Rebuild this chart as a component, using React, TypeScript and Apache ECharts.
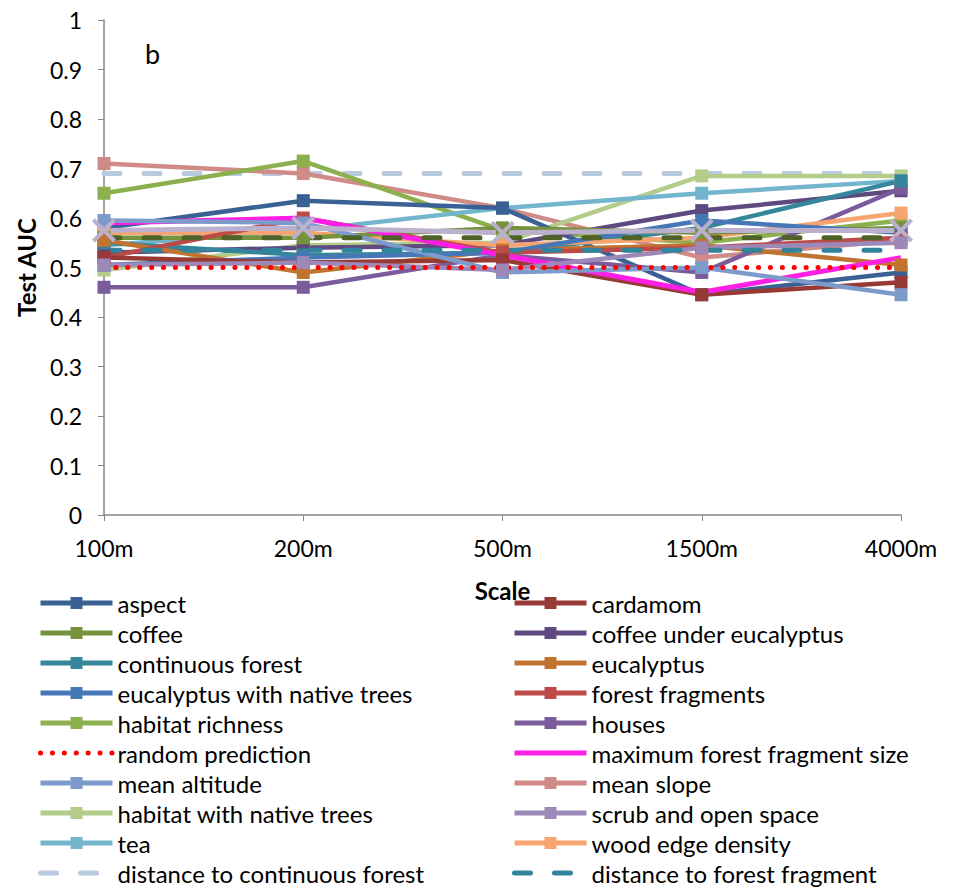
import React, { useEffect, useRef } from "react";
import * as echarts from "echarts";

const scales = ["100m", "200m", "500m", "1500m", "4000m"];
const yTicks = [0, 0.1, 0.2, 0.3, 0.4, 0.5, 0.6, 0.7, 0.8, 0.9, 1];

const aspect = [0.58, 0.635, 0.62, 0.445, 0.49];
const cardamom = [0.52, 0.51, 0.515, 0.445, 0.47];
const coffee = [0.56, 0.56, 0.58, 0.57, 0.58];
const coffeeUnderEucalyptus = [0.53, 0.54, 0.545, 0.615, 0.655];
const continuousForest = [0.55, 0.525, 0.53, 0.58, 0.675];
const eucalyptus = [0.555, 0.49, 0.535, 0.545, 0.505];
const eucalyptusNative = [0.505, 0.52, 0.53, 0.595, 0.57];
const forestFragments = [0.52, 0.6, 0.53, 0.54, 0.56];
const habitatRichness = [0.65, 0.715, 0.575, 0.55, 0.595];
const houses = [0.46, 0.46, 0.525, 0.49, 0.66];
const randomPrediction = [0.5, 0.5, 0.5, 0.5, 0.5];
const maxFragmentSize = [0.59, 0.6, 0.525, 0.45, 0.52];
const meanAltitude = [0.595, 0.59, 0.49, 0.5, 0.445];
const meanSlope = [0.71, 0.69, 0.62, 0.52, 0.555];
const habitatNative = [0.495, 0.545, 0.55, 0.685, 0.685];
const scrubOpen = [0.505, 0.51, 0.495, 0.54, 0.55];
const tea = [0.545, 0.575, 0.62, 0.65, 0.675];
const woodEdge = [0.57, 0.57, 0.545, 0.56, 0.61];
const distContinuous = [0.69, 0.69, 0.69, 0.69, 0.69];
const distFragment = [0.535, 0.535, 0.535, 0.535, 0.535];
const distOther = [0.56, 0.56, 0.56, 0.56, 0.56];
const otherX = [0.575, 0.58, 0.57, 0.575, 0.575];

const leftLegend = [
  "aspect",
  "coffee",
  "continuous forest",
  "eucalyptus with native trees",
  "habitat richness",
  "random prediction",
  "mean altitude",
  "habitat with native trees",
  "tea",
  "distance to continuous forest",
];
const rightLegend = [
  "cardamom",
  "coffee under eucalyptus",
  "eucalyptus",
  "forest fragments",
  "houses",
  "maximum forest fragment size",
  "mean slope",
  "scrub and open space",
  "wood edge density",
  "distance to forest fragment",
];
const noMarker = [
  "random prediction",
  "maximum forest fragment size",
  "distance to continuous forest",
  "distance to forest fragment",
];

const FONT = "Lato, 'Open Sans', sans-serif";
const X_SYMBOL =
  "path://M0,1.2 L1.2,0 L5,3.8 L8.8,0 L10,1.2 L6.2,5 L10,8.8 L8.8,10 L5,6.2 L1.2,10 L0,8.8 L3.8,5 Z";

function markerSeries(name: string, data: number[], color: string) {
  return {
    name,
    type: "line",
    data,
    symbol: "rect",
    symbolSize: 13,
    showSymbol: true,
    lineStyle: { color, width: 4.5 },
    itemStyle: { color },
    emphasis: { disabled: true },
  };
}

function dashedSeries(name: string, data: number[], color: string) {
  return {
    name,
    type: "line",
    data,
    symbol: "none",
    lineStyle: { color, width: 5, type: [16, 24], cap: "round" },
    itemStyle: { color },
    emphasis: { disabled: true },
  };
}

function legendData(names: string[]) {
  return names.map((n) =>
    noMarker.includes(n)
      ? { name: n, itemStyle: { color: "rgba(0,0,0,0)", borderColor: "rgba(0,0,0,0)", opacity: 0 } }
      : { name: n }
  );
}

export default function App() {
  const ref = useRef<HTMLDivElement>(null);
  useEffect(() => {
    if (!ref.current) return;
    const chart = echarts.init(ref.current, null, { renderer: "svg" });
    const series: any[] = [
      dashedSeries("distance to continuous forest", distContinuous, "#B9C9E0"),
      markerSeries("mean slope", meanSlope, "#D08A88"),
      markerSeries("habitat richness", habitatRichness, "#8DB04F"),
      markerSeries("habitat with native trees", habitatNative, "#B3CC8A"),
      markerSeries("tea", tea, "#72B5CC"),
      markerSeries("aspect", aspect, "#3A6193"),
      markerSeries("coffee under eucalyptus", coffeeUnderEucalyptus, "#5E4A80"),
      markerSeries("houses", houses, "#7A5B9C"),
      markerSeries("continuous forest", continuousForest, "#35869A"),
      markerSeries("wood edge density", woodEdge, "#F6A570"),
      markerSeries("coffee", coffee, "#76923C"),
      markerSeries("eucalyptus", eucalyptus, "#C07430"),
      markerSeries("eucalyptus with native trees", eucalyptusNative, "#4678B8"),
      markerSeries("forest fragments", forestFragments, "#BC4A47"),
      markerSeries("cardamom", cardamom, "#973A36"),
      {
        name: "maximum forest fragment size",
        type: "line",
        data: maxFragmentSize,
        symbol: "none",
        lineStyle: { color: "#FF1EE6", width: 5 },
        itemStyle: { color: "#FF1EE6" },
        emphasis: { disabled: true },
      },
      markerSeries("mean altitude", meanAltitude, "#7C9BCB"),
      {
        name: "other",
        type: "line",
        data: otherX,
        symbol: X_SYMBOL,
        symbolSize: 24,
        lineStyle: { color: "#BBB0CD", width: 5 },
        itemStyle: { color: "#BBB0CD" },
        emphasis: { disabled: true },
      },
      dashedSeries("distance other", distOther, "#4F6228"),
      markerSeries("scrub and open space", scrubOpen, "#9D88BA"),
      dashedSeries("distance to forest fragment", distFragment, "#31849B"),
      {
        name: "random prediction",
        type: "line",
        data: randomPrediction,
        symbol: "none",
        lineStyle: { color: "#FF0000", width: 5, type: [0.1, 11.8], cap: "round" },
        itemStyle: { color: "#FF0000" },
        emphasis: { disabled: true },
      },
    ];
    const legendCommon = {
      orient: "vertical",
      top: 591,
      height: 298,
      padding: 0,
      itemWidth: 72,
      itemHeight: 15,
      itemGap: 6,
      selectedMode: false,
      lineStyle: { width: 5 },
      textStyle: { fontSize: 24, color: "#000", fontFamily: FONT, lineHeight: 24 },
    };
    chart.setOption({
      animation: false,
      textStyle: { fontFamily: FONT },
      grid: { left: 104, right: 57, top: 20, bottom: 374 },
      xAxis: {
        type: "category",
        data: scales,
        boundaryGap: false,
        name: "Scale",
        nameLocation: "middle",
        nameGap: 63,
        nameTextStyle: { fontSize: 24, fontWeight: "bold", color: "#000", fontFamily: FONT },
        axisLine: { lineStyle: { color: "#868686", width: 1.5 } },
        axisTick: { show: true, length: 6, alignWithLabel: true, lineStyle: { color: "#868686" } },
        axisLabel: { fontSize: 23, color: "#000", margin: 21, fontFamily: FONT },
        splitLine: { show: false },
      },
      yAxis: {
        type: "value",
        min: yTicks[0],
        max: yTicks[yTicks.length - 1],
        interval: 0.1,
        name: "Test AUC",
        nameLocation: "middle",
        nameGap: 66,
        nameTextStyle: { fontSize: 24, fontWeight: "bold", color: "#000", fontFamily: FONT },
        axisLine: { show: true, lineStyle: { color: "#868686", width: 1.5 } },
        axisTick: { show: true, length: 6, lineStyle: { color: "#868686" } },
        axisLabel: { fontSize: 23, color: "#000", margin: 22, fontFamily: FONT },
        splitLine: { show: false },
      },
      graphic: [
        {
          type: "text",
          left: 145,
          top: 40,
          style: { text: "b", fontSize: 27, fill: "#000", fontFamily: FONT },
        },
      ],
      legend: [
        { ...legendCommon, left: 38, data: legendData(leftLegend) },
        { ...legendCommon, left: 512, data: legendData(rightLegend) },
      ],
      series,
    });
    return () => chart.dispose();
  }, []);
  return (
    <div
      ref={ref}
      style={{ position: "fixed", left: 0, top: 0, width: 958, height: 889, background: "#fff" }}
    />
  );
}
